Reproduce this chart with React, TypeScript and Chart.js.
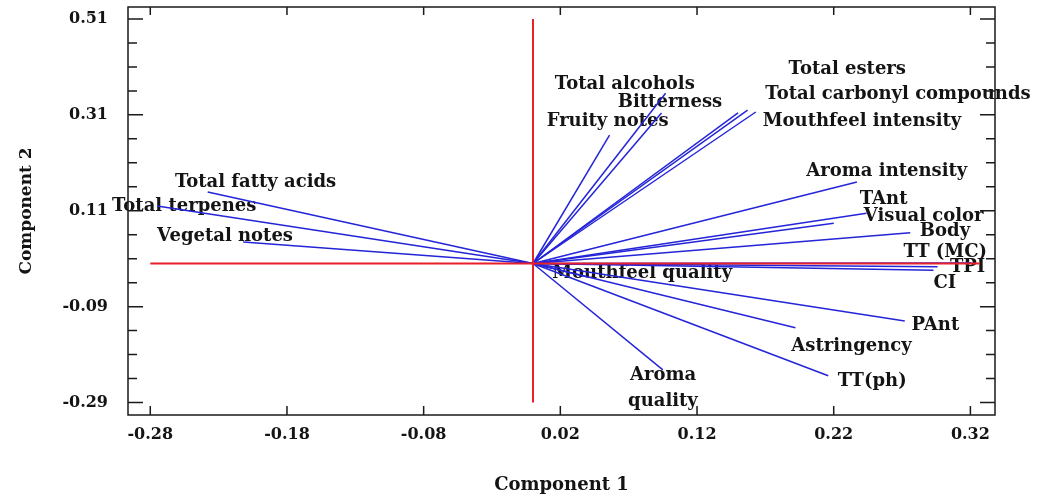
import React, { useEffect, useRef } from "react";
import { Chart, registerables } from "chart.js";

Chart.register(...registerables);

// Loadings (Component 1, Component 2)
const variables = [
  "Total fatty acids", "Total terpenes", "Vegetal notes", "Fruity notes", "Total alcohols",
  "Bitterness", "Total esters", "Total carbonyl compounds", "Mouthfeel intensity", "Aroma intensity",
  "TAnt", "Visual color", "Body", "TT (MC)", "TPI", "CI", "Mouthfeel quality", "PAnt",
  "Astringency", "TT(ph)", "Aroma quality",
];
const component1 = [
  -0.238, -0.275, -0.212, 0.056, 0.097, 0.094, 0.150, 0.157, 0.163, 0.237,
  0.244, 0.220, 0.276, 0.321, 0.296, 0.293, 0.040, 0.272, 0.192, 0.216, 0.095,
];
const component2 = [
  0.149, 0.120, 0.045, 0.268, 0.355, 0.314, 0.314, 0.320, 0.316, 0.170,
  0.105, 0.084, 0.064, 0.001, -0.007, -0.014, -0.028, -0.120, -0.134, -0.234, -0.222,
];

// label placement (left edge / vertical centre, in axis units)
const labelAnchorX = [
  -0.262, -0.308, -0.275, 0.010, 0.016, 0.062, 0.187, 0.170, 0.168, 0.200,
  0.239, 0.242, 0.283, 0.271, 0.305, 0.293, 0.014, 0.277, 0.189, 0.223, 0.071,
];
const labelAnchorY = [
  0.170, 0.120, 0.057, 0.297, 0.374, 0.336, 0.405, 0.353, 0.297, 0.193,
  0.134, 0.099, 0.068, 0.024, -0.007, -0.041, -0.020, -0.128, -0.172, -0.245, -0.234,
];

// reference axes (red lines through the origin)
const horizontalAxisX = [-0.28, 0.327];
const verticalAxisY = [-0.29, 0.51];

const xTickValues = [-0.28, -0.18, -0.08, 0.02, 0.12, 0.22, 0.32];
const yTickValues = [0.51, 0.31, 0.11, -0.09, -0.29];
const yMinorStep = 0.05;

const FONT = "'DejaVu Serif', serif";
const TEXT = "#141414";

export default function App() {
  const ref = useRef<HTMLCanvasElement | null>(null);

  useEffect(() => {
    document.body.style.margin = "0";
    const canvas = ref.current;
    if (!canvas) return;

    const vectorSets = variables.map((name, i) => ({
      label: name,
      data: [
        { x: 0, y: 0 },
        { x: component1[i], y: component2[i] },
      ],
      showLine: true,
      borderColor: "#2424d8",
      borderWidth: 1.5,
      pointRadius: 0,
      order: 2,
    }));

    const redSets = [
      {
        label: "axis-h",
        data: [
          { x: horizontalAxisX[0], y: 0 },
          { x: horizontalAxisX[1], y: 0 },
        ],
        showLine: true,
        borderColor: "#e8202a",
        borderWidth: 2,
        pointRadius: 0,
        order: 1,
      },
      {
        label: "axis-v",
        data: [
          { x: 0, y: verticalAxisY[0] },
          { x: 0, y: verticalAxisY[1] },
        ],
        showLine: true,
        borderColor: "#e8202a",
        borderWidth: 2,
        pointRadius: 0,
        order: 1,
      },
    ];

    const labelPlugin = {
      id: "vectorLabels",
      beforeDatasetsDraw(chart: any) {
        const { ctx, scales } = chart;
        ctx.save();
        ctx.font = `bold 18px ${FONT}`;
        ctx.fillStyle = TEXT;
        ctx.textAlign = "left";
        ctx.textBaseline = "middle";
        variables.forEach((name, i) => {
          const px = scales.x.getPixelForValue(labelAnchorX[i]);
          const py = scales.y.getPixelForValue(labelAnchorY[i]);
          if (name === "Aroma quality") {
            ctx.fillText("Aroma", px, py);
            ctx.fillText("quality", px - 2, py + 26);
          } else {
            ctx.fillText(name, px, py);
          }
        });
        ctx.restore();
      },
    };

    const framePlugin = {
      id: "frameTicks",
      afterDraw(chart: any) {
        const { ctx, chartArea: a, scales } = chart;
        ctx.save();
        ctx.strokeStyle = "#1a1a1a";
        ctx.lineWidth = 1.5;
        ctx.strokeRect(a.left, a.top, a.right - a.left, a.bottom - a.top);
        ctx.beginPath();
        const lo = yTickValues[yTickValues.length - 1];
        const hi = yTickValues[0];
        let k = 0;
        for (let v = hi; v >= lo - 1e-9; v -= yMinorStep, k++) {
          const py = scales.y.getPixelForValue(v);
          const len = k % 4 === 0 ? 15 : 9;
          ctx.moveTo(a.left, py);
          ctx.lineTo(a.left + len, py);
          ctx.moveTo(a.right, py);
          ctx.lineTo(a.right - len, py);
        }
        xTickValues.forEach((v) => {
          const px = scales.x.getPixelForValue(v);
          ctx.moveTo(px, a.bottom);
          ctx.lineTo(px, a.bottom - 9);
          ctx.moveTo(px, a.top);
          ctx.lineTo(px, a.top + 8);
        });
        ctx.stroke();
        ctx.restore();
      },
    };

    const chart = new Chart(canvas, {
      type: "scatter",
      data: { datasets: [...redSets, ...vectorSets] as any },
      options: {
        animation: false,
        responsive: false,
        layout: { padding: { top: 7, right: 61, bottom: 0, left: 0 } },
        plugins: { legend: { display: false }, tooltip: { enabled: false } },
        scales: {
          x: {
            type: "linear",
            min: -0.2963,
            max: 0.338,
            afterFit: (s: any) => {
              s.height = 85;
              s.paddingLeft = 0;
              s.paddingRight = 0;
            },
            afterBuildTicks: (s: any) => {
              s.ticks = xTickValues.map((v) => ({ value: v }));
            },
            grid: { display: false, drawTicks: false },
            border: { display: false },
            ticks: {
              padding: 10,
              color: TEXT,
              font: { family: FONT, weight: "bold", size: 16 },
              callback: (v: any) => Number(v).toFixed(2),
              maxRotation: 0,
              autoSkip: false,
            },
            title: {
              display: true,
              text: "Component 1",
              color: TEXT,
              font: { family: FONT, weight: "bold", size: 18 },
              padding: { top: 0, bottom: 4 },
            },
          },
          y: {
            type: "linear",
            min: -0.316,
            max: 0.535,
            afterFit: (s: any) => {
              s.width = 128;
              s.paddingTop = 0;
              s.paddingBottom = 0;
            },
            afterBuildTicks: (s: any) => {
              s.ticks = yTickValues.map((v) => ({ value: v }));
            },
            grid: { display: false, drawTicks: false },
            border: { display: false },
            ticks: {
              padding: 20,
              color: TEXT,
              font: { family: FONT, weight: "bold", size: 16 },
              callback: (v: any) => Number(v).toFixed(2),
              autoSkip: false,
            },
            title: {
              display: true,
              text: "Component 2",
              color: TEXT,
              font: { family: FONT, weight: "bold", size: 17 },
              padding: { top: 16, bottom: 0 },
            },
          },
        },
      },
      plugins: [labelPlugin, framePlugin],
    });

    return () => chart.destroy();
  }, []);

  return <canvas ref={ref} width={1056} height={500} style={{ display: "block" }} />;
}
